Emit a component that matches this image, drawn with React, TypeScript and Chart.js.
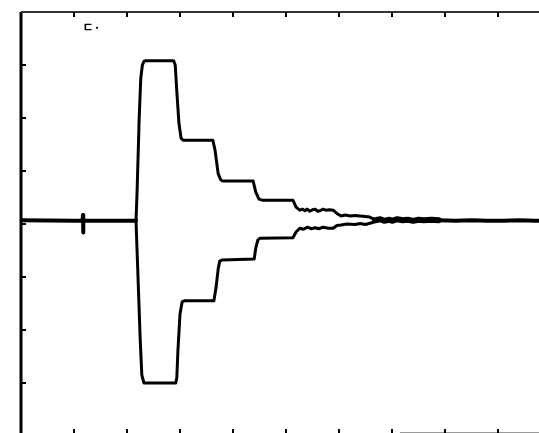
import React, { useEffect, useRef } from "react";
import { Chart, registerables } from "chart.js";

Chart.register(...registerables);

// Axis grid: 10 horizontal divisions, 8 vertical divisions (oscilloscope screen)
const xDivisions = [0, 1, 2, 3, 4, 5, 6, 7, 8, 9, 10];
const yDivisions = [-4, -3, -2, -1, 0, 1, 2, 3, 4];

// Baseline before the pulse (with the small blip)
const preX = [0, 1.0, 1.16, 1.17, 1.17, 1.18, 1.3, 2.17];
const preY = [0.07, 0.06, 0.06, 0.17, -0.16, 0.06, 0.06, 0.06];

// Upper envelope
const upperX = [2.17, 2.19, 2.23, 2.26, 2.29, 2.32, 2.36, 2.88, 2.91, 2.94, 2.98, 3.02, 3.06, 3.62, 3.66, 3.72, 3.77, 3.81, 4.38, 4.43, 4.49, 4.55, 5.13, 5.19, 5.26, 5.31, 5.36, 5.40, 5.45, 5.50, 5.55, 5.60, 5.64, 5.70, 5.75, 5.82, 5.89, 5.96, 6.04, 6.12, 6.21, 6.30, 6.40, 6.50, 6.58, 6.68];
const upperY = [0.06, 0.6, 2.0, 2.75, 3.0, 3.07, 3.08, 3.08, 3.0, 2.5, 1.9, 1.62, 1.58, 1.58, 1.4, 0.95, 0.83, 0.81, 0.81, 0.6, 0.47, 0.45, 0.45, 0.32, 0.26, 0.28, 0.25, 0.28, 0.24, 0.27, 0.28, 0.24, 0.25, 0.28, 0.26, 0.27, 0.26, 0.2, 0.15, 0.17, 0.15, 0.16, 0.15, 0.14, 0.13, 0.08];

// Lower envelope
const lowerX = [2.17, 2.19, 2.25, 2.28, 2.32, 2.92, 2.94, 2.96, 3.00, 3.04, 3.08, 3.64, 3.68, 3.72, 3.75, 3.79, 4.40, 4.43, 4.47, 4.51, 5.13, 5.19, 5.26, 5.33, 5.40, 5.48, 5.55, 5.62, 5.70, 5.80, 5.89, 5.96, 6.04, 6.15, 6.30, 6.40, 6.50, 6.60, 6.68];
const lowerY = [0.06, -0.5, -2.2, -2.85, -3.0, -3.0, -2.9, -2.4, -1.7, -1.47, -1.45, -1.45, -1.2, -0.85, -0.7, -0.68, -0.66, -0.45, -0.3, -0.27, -0.26, -0.15, -0.08, -0.1, -0.06, -0.09, -0.07, -0.09, -0.06, -0.08, -0.08, -0.03, -0.02, 0.0, -0.01, 0.01, -0.01, 0.02, 0.04];

// Merged noisy trace and baseline after the pulse
const mergedX = [6.68, 6.78, 6.85, 6.95, 7.0, 7.1, 7.2, 7.3, 7.4, 7.5, 7.6, 7.75, 7.88];
const mergedY = [0.07, 0.09, 0.06, 0.08, 0.06, 0.09, 0.07, 0.08, 0.06, 0.08, 0.07, 0.08, 0.07];
const postX = [7.88, 8.2, 8.5, 8.8, 9.1, 9.4, 9.7, 10];
const postY = [0.07, 0.06, 0.07, 0.06, 0.06, 0.07, 0.06, 0.06];

const markerText = "ㄷ·";

const pts = (xs: number[], ys: number[]) => xs.map((x, i) => ({ x, y: ys[i] }));

const framePlugin = {
  id: "scopeFrame",
  afterDatasetsDraw(chart: any) {
    const { ctx, chartArea, scales } = chart;
    const { left, top, right, bottom } = chartArea;
    ctx.save();
    // left border
    ctx.strokeStyle = "#000";
    ctx.lineWidth = 3;
    ctx.beginPath();
    ctx.moveTo(left, top);
    ctx.lineTo(left, bottom);
    ctx.stroke();
    // top border
    ctx.strokeStyle = "#333";
    ctx.lineWidth = 2;
    ctx.beginPath();
    ctx.moveTo(left, top);
    ctx.lineTo(right, top);
    ctx.stroke();
    // partial bottom line
    ctx.strokeStyle = "#999";
    ctx.lineWidth = 1;
    ctx.beginPath();
    ctx.moveTo(scales.x.getPixelForValue(7.15), bottom - 3.5);
    ctx.lineTo(right, bottom - 3.5);
    ctx.stroke();
    // ticks
    ctx.strokeStyle = "#000";
    ctx.lineWidth = 2;
    ctx.beginPath();
    xDivisions.slice(1, -1).forEach((v) => {
      const px = Math.round(scales.x.getPixelForValue(v));
      ctx.moveTo(px, top);
      ctx.lineTo(px, top + 5);
      ctx.moveTo(px, bottom);
      ctx.lineTo(px, bottom - 7);
    });
    yDivisions.slice(1, -1).forEach((v) => {
      const py = Math.round(scales.y.getPixelForValue(v));
      ctx.moveTo(left, py);
      ctx.lineTo(left + 5, py);
    });
    ctx.stroke();
    // marker text
    ctx.fillStyle = "#000";
    ctx.font = "bold 12px 'Noto Sans CJK KR', 'DejaVu Sans', sans-serif";
    ctx.textBaseline = "middle";
    ctx.fillText(markerText, scales.x.getPixelForValue(1.16), scales.y.getPixelForValue(3.7));
    ctx.restore();
  },
};

export default function App() {
  const ref = useRef<HTMLCanvasElement | null>(null);
  useEffect(() => {
    if (!ref.current) return;
    const line = (data: any, width: number) => ({
      data,
      borderColor: "#000",
      borderWidth: width,
      pointRadius: 0,
      tension: 0,
      fill: false,
      borderJoinStyle: "round",
      borderCapStyle: "round",
    });
    const chart = new Chart(ref.current, {
      type: "line",
      data: {
        datasets: [
          line(pts(preX, preY), 4),
          line(pts(upperX, upperY), 3),
          line(pts(lowerX, lowerY), 3),
          line(pts(mergedX, mergedY), 6),
          line(pts(postX, postY), 4),
        ] as any,
      },
      options: {
        animation: false,
        responsive: false,
        devicePixelRatio: 1,
        parsing: false as any,
        layout: { padding: { left: 21, top: 12, right: 9, bottom: 4 } },
        plugins: { legend: { display: false }, tooltip: { enabled: false } },
        scales: {
          x: { type: "linear", min: 0, max: 10, display: false },
          y: { type: "linear", min: -4, max: 4, display: false },
        },
      },
      plugins: [framePlugin],
    });
    return () => chart.destroy();
  }, []);
  return (
    <div style={{ position: "fixed", left: 0, top: 0, width: 539, height: 433, overflow: "hidden", background: "#fff" }}>
      <canvas ref={ref} width={560} height={440} style={{ width: 560, height: 440, display: "block" }} />
    </div>
  );
}
